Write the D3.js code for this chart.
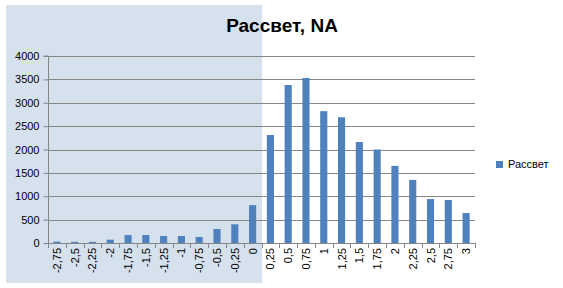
<!DOCTYPE html>
<html><head><meta charset="utf-8">
<script src="https://cdn.jsdelivr.net/npm/d3@7"></script>
<style>body{margin:0;background:#fff}svg{display:block}</style>
</head><body>
<svg id="c" width="563" height="288"></svg>
<script>
const categories = ["-2,75","-2,5","-2,25","-2","-1,75","-1,5","-1,25","-1","-0,75","-0,5","-0,25","0","0,25","0,5","0,75","1","1,25","1,5","1,75","2","2,25","2,5","2,75","3"];
const values = [30,25,25,70,170,170,150,150,130,300,400,810,2310,3380,3530,2820,2690,2160,2000,1650,1350,940,920,640];
const yTicks = [0,500,1000,1500,2000,2500,3000,3500,4000];
const seriesName = "Рассвет";
const title = "Рассвет, NA";

const svg = d3.select("#c");
const font = "'Liberation Sans', Arial, sans-serif";
const pL = 48, pR = 475, pT = 56, pB = 243;

// shaded region
svg.append("rect").attr("x",6).attr("y",5).attr("width",256).attr("height",278).attr("fill","#d6e1ee");

const xo = d3.scaleBand().domain(categories).range([pL,pR]);
const y = d3.scaleLinear().domain([0,4000]).range([pB,pT]);

// gridlines
svg.append("g").selectAll("line").data(yTicks.filter(d=>d>0)).join("line")
  .attr("x1",pL).attr("x2",pR).attr("y1",d=>Math.round(y(d))+0.5).attr("y2",d=>Math.round(y(d))+0.5)
  .attr("stroke","#868686").attr("stroke-width",1);

// bars
svg.append("g").selectAll("rect").data(values).join("rect")
  .attr("x",(d,i)=>xo(categories[i])+xo.bandwidth()*0.3)
  .attr("width",xo.bandwidth()*0.4)
  .attr("y",d=>y(d)).attr("height",d=>pB-y(d))
  .attr("fill","#4f81bd");

// y axis
const ya = svg.append("g").attr("transform",`translate(${pL+0.5},0)`)
  .call(d3.axisLeft(y).tickValues(yTicks).tickSize(5).tickPadding(4).tickFormat(d3.format("d")));
ya.select(".domain").attr("stroke","#868686").attr("d",`M-5,${pT}H0V${pB}`);
ya.selectAll(".tick line").attr("stroke","#868686");
ya.selectAll("text").attr("font-family",font).attr("font-size",11).attr("fill","#000");

// x axis
const xa = svg.append("g").attr("transform",`translate(0,${pB+0.5})`)
  .call(d3.axisBottom(xo).tickSize(0).tickFormat(""));
xa.select(".domain").attr("stroke","#868686").attr("d",`M${pL},0H${pR}`);
xa.selectAll(".tick").remove();
const bounds = categories.map(c=>xo(c)).concat([pR]);
svg.append("g").selectAll("line").data(bounds).join("line")
  .attr("x1",d=>Math.round(d)+0.5).attr("x2",d=>Math.round(d)+0.5)
  .attr("y1",pB).attr("y2",pB+5).attr("stroke","#868686");
svg.append("g").selectAll("text").data(categories).join("text")
  .attr("transform",d=>`translate(${xo(d)+xo.bandwidth()/2+4},${pB+5}) rotate(-90)`)
  .attr("text-anchor","end").attr("font-family",font).attr("font-size",11).attr("fill","#000")
  .text(d=>d);

// title
svg.append("text").attr("x",282).attr("y",32).attr("text-anchor","middle")
  .attr("font-family",font).attr("font-weight","bold").attr("font-size",19).attr("fill","#000").text(title);

// legend
svg.append("rect").attr("x",496).attr("y",161).attr("width",7).attr("height",7).attr("fill","#4f81bd");
svg.append("text").attr("x",508).attr("y",168).attr("font-family",font).attr("font-size",11).attr("fill","#000").text(seriesName);
</script>
</body></html>
